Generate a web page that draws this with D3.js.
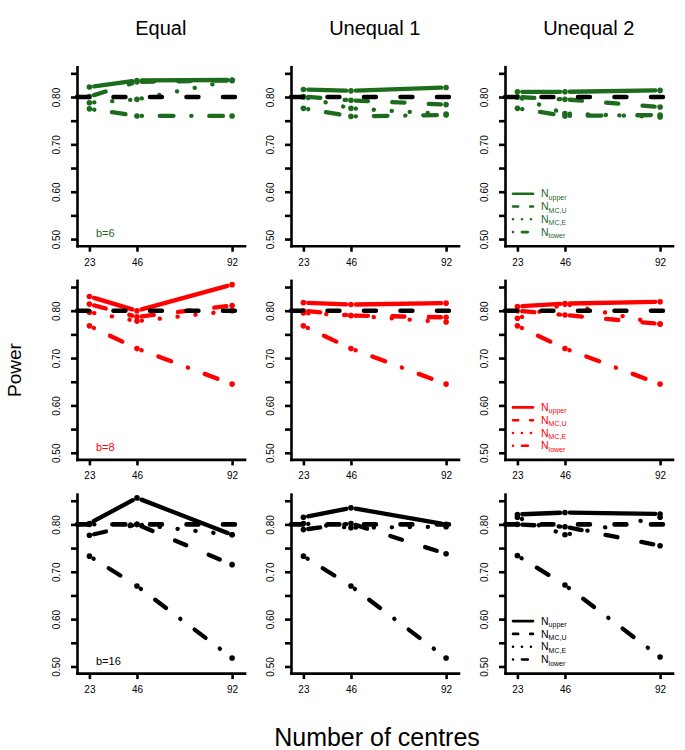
<!DOCTYPE html>
<html>
<head>
<meta charset="utf-8">
<script src="https://cdn.jsdelivr.net/npm/d3@7/dist/d3.min.js"></script>
<style>
  body { margin: 0; background: #fff; }
  svg { display: block; font-family: "Liberation Sans", Arial, Helvetica, sans-serif; }
</style>
</head>
<body>
<script>
// number of centres on the x axis, design columns, block-size rows
const centres = [23, 46, 92];
const designs = ['Equal', 'Unequal 1', 'Unequal 2'];
const blockLabels = ['b=6', 'b=8', 'b=16'];
const seriesSubs = ['upper', 'MC,U', 'MC,E', 'lower'];
const targetPower = 0.80;
const yTicks = [0.50, 0.55, 0.60, 0.65, 0.70, 0.75, 0.80, 0.85];
const yLabelled = [0.50, 0.60, 0.70, 0.80];

// power[design][series][centre], series order: upper, MC,U, MC,E, lower
const powerB6 = [
  [[0.821, 0.835, 0.836], [0.801, 0.832, 0.835], [0.788, 0.795, 0.835], [0.775, 0.760, 0.760]],
  [[0.816, 0.813, 0.820], [0.801, 0.793, 0.784], [0.800, 0.776, 0.764], [0.776, 0.759, 0.762]],
  [[0.811, 0.811, 0.814], [0.800, 0.795, 0.779], [0.800, 0.765, 0.758], [0.776, 0.760, 0.762]]
];
const powerB8 = [
  [[0.830, 0.800, 0.855], [0.814, 0.787, 0.811], [0.797, 0.778, 0.800], [0.768, 0.720, 0.645]],
  [[0.817, 0.813, 0.816], [0.800, 0.790, 0.786], [0.795, 0.790, 0.776], [0.768, 0.720, 0.645]],
  [[0.809, 0.815, 0.819], [0.800, 0.791, 0.772], [0.784, 0.814, 0.772], [0.768, 0.720, 0.645]]
];
const powerB16 = [
  [[0.802, 0.856, 0.778], [0.777, 0.800, 0.715], [0.800, 0.800, 0.778], [0.733, 0.670, 0.518]],
  [[0.815, 0.835, 0.800], [0.789, 0.802, 0.738], [0.802, 0.793, 0.795], [0.733, 0.670, 0.518]],
  [[0.821, 0.825, 0.822], [0.800, 0.795, 0.755], [0.815, 0.778, 0.815], [0.734, 0.672, 0.520]]
];

const rows = [powerB6, powerB8, powerB16];
const rowColors = ['#1d6b1d', '#ff0000', '#000000'];

// visible on/off lengths of the line types (R: solid, dashed, dotted, dotdash)
const ltys = [null, [16.5, 20], [4.5, 13.5], [4.5, 13.5, 18, 13.5]];

const L = { left0: 77, top0: 66.7, colStep: 214, rowStep: 213.7, pw: 167.5, ph: 179 };
const LW = 4.3, LW_REF = 4.6, LW_AXIS = 2.6, PT_R = 2.8, GAP = 4.8;

// turn visible lengths into a dasharray for round caps
function dash(pat, w, k = 1) {
  if (!pat) return null;
  return pat.map((v, i) => i % 2 === 0 ? Math.max(v * k - w, 0.01) : v * k + w).join(',');
}

const svg = d3.select('body').append('svg').attr('width', 685).attr('height', 750);

rows.forEach((panelRow, r) => {
  const col = rowColors[r];
  panelRow.forEach((series, c) => {
    const left = L.left0 + c * L.colStep;
    const top = L.top0 + r * L.rowStep;
    const x = d3.scaleLinear().domain([17, 98]).range([left, left + L.pw]);
    const y = d3.scaleLinear().domain([0.486, 0.864]).range([top + L.ph, top]);
    const g = svg.append('g');

    // series: points joined by segments that stop short of each point (type "b")
    series.forEach((vals, s) => {
      const pts = centres.map((cx, i) => [x(cx), y(vals[i])]);
      d3.pairs(pts).forEach(([a, b]) => {
        const dx = b[0] - a[0], dy = b[1] - a[1], len = Math.hypot(dx, dy);
        if (len <= 2 * GAP) return;
        const ux = dx / len, uy = dy / len;
        g.append('line')
          .attr('x1', a[0] + ux * GAP).attr('y1', a[1] + uy * GAP)
          .attr('x2', b[0] - ux * GAP).attr('y2', b[1] - uy * GAP)
          .attr('stroke', col).attr('stroke-width', LW)
          .attr('stroke-linecap', 'round')
          .attr('stroke-dasharray', dash(ltys[s], LW));
      });
      g.selectAll(null).data(pts).join('circle')
        .attr('cx', d => d[0]).attr('cy', d => d[1]).attr('r', PT_R).attr('fill', col);
    });

    // target power line
    g.append('line')
      .attr('x1', x.range()[0]).attr('x2', x.range()[1])
      .attr('y1', y(targetPower)).attr('y2', y(targetPower))
      .attr('stroke', '#000').attr('stroke-width', LW_REF)
      .attr('stroke-linecap', 'round')
      .attr('stroke-dasharray', dash(ltys[1], LW_REF));

    // axes (L-shaped box)
    const ya = g.append('g').attr('transform', `translate(${left},0)`)
      .call(d3.axisLeft(y).tickValues(yTicks).tickSize(6).tickSizeOuter(0)
        .tickFormat(v => yLabelled.some(t => Math.abs(t - v) < 1e-9) ? d3.format('.2f')(v) : ''));
    ya.selectAll('.tick text')
      .attr('transform', 'rotate(-90)').attr('text-anchor', 'middle')
      .attr('x', 0).attr('y', -17).attr('dy', 0)
      .attr('font-size', 10).attr('font-family', null).attr('fill', '#000');

    const xa = g.append('g').attr('transform', `translate(0,${top + L.ph})`)
      .call(d3.axisBottom(x).tickValues(centres).tickSize(6).tickSizeOuter(0).tickPadding(7));
    xa.selectAll('.tick text').attr('font-size', 10).attr('font-family', null).attr('fill', '#000');

    [ya, xa].forEach(a => {
      a.select('.domain').attr('stroke-width', LW_AXIS).attr('stroke-linecap', 'square');
      a.selectAll('.tick line').attr('stroke-width', LW_AXIS);
    });

    if (c === 0) {
      g.append('text').attr('x', left + 19).attr('y', top + L.ph - 8.6)
        .attr('font-size', 11).attr('fill', col).text(blockLabels[r]);
    }

    // legend in the right-hand column
    if (c === 2) {
      const lg = g.append('g');
      seriesSubs.forEach((sub, s) => {
        const ly = top + L.ph - 52 + s * 12.8;
        lg.append('line')
          .attr('x1', left + 8).attr('x2', left + 28).attr('y1', ly).attr('y2', ly)
          .attr('stroke', col).attr('stroke-width', 2.6).attr('stroke-linecap', 'round')
          .attr('stroke-dasharray', dash(ltys[s], 2.6, 0.47));
        const t = lg.append('text').attr('x', left + 36).attr('y', ly + 3.6)
          .attr('font-size', 10.5).attr('fill', col);
        t.append('tspan').text('N');
        t.append('tspan').attr('dy', 2.4).attr('font-size', 7).text(sub);
      });
    }

    if (r === 0) {
      svg.append('text').attr('x', left + L.pw / 2).attr('y', 35)
        .attr('text-anchor', 'middle').attr('font-size', 20).text(designs[c]);
    }
  });
});

svg.append('text')
  .attr('transform', 'translate(21,370) rotate(-90)')
  .attr('text-anchor', 'middle').attr('font-size', 19).text('Power');

svg.append('text').attr('x', 377).attr('y', 746)
  .attr('text-anchor', 'middle').attr('font-size', 25).text('Number of centres');
</script>
</body>
</html>
